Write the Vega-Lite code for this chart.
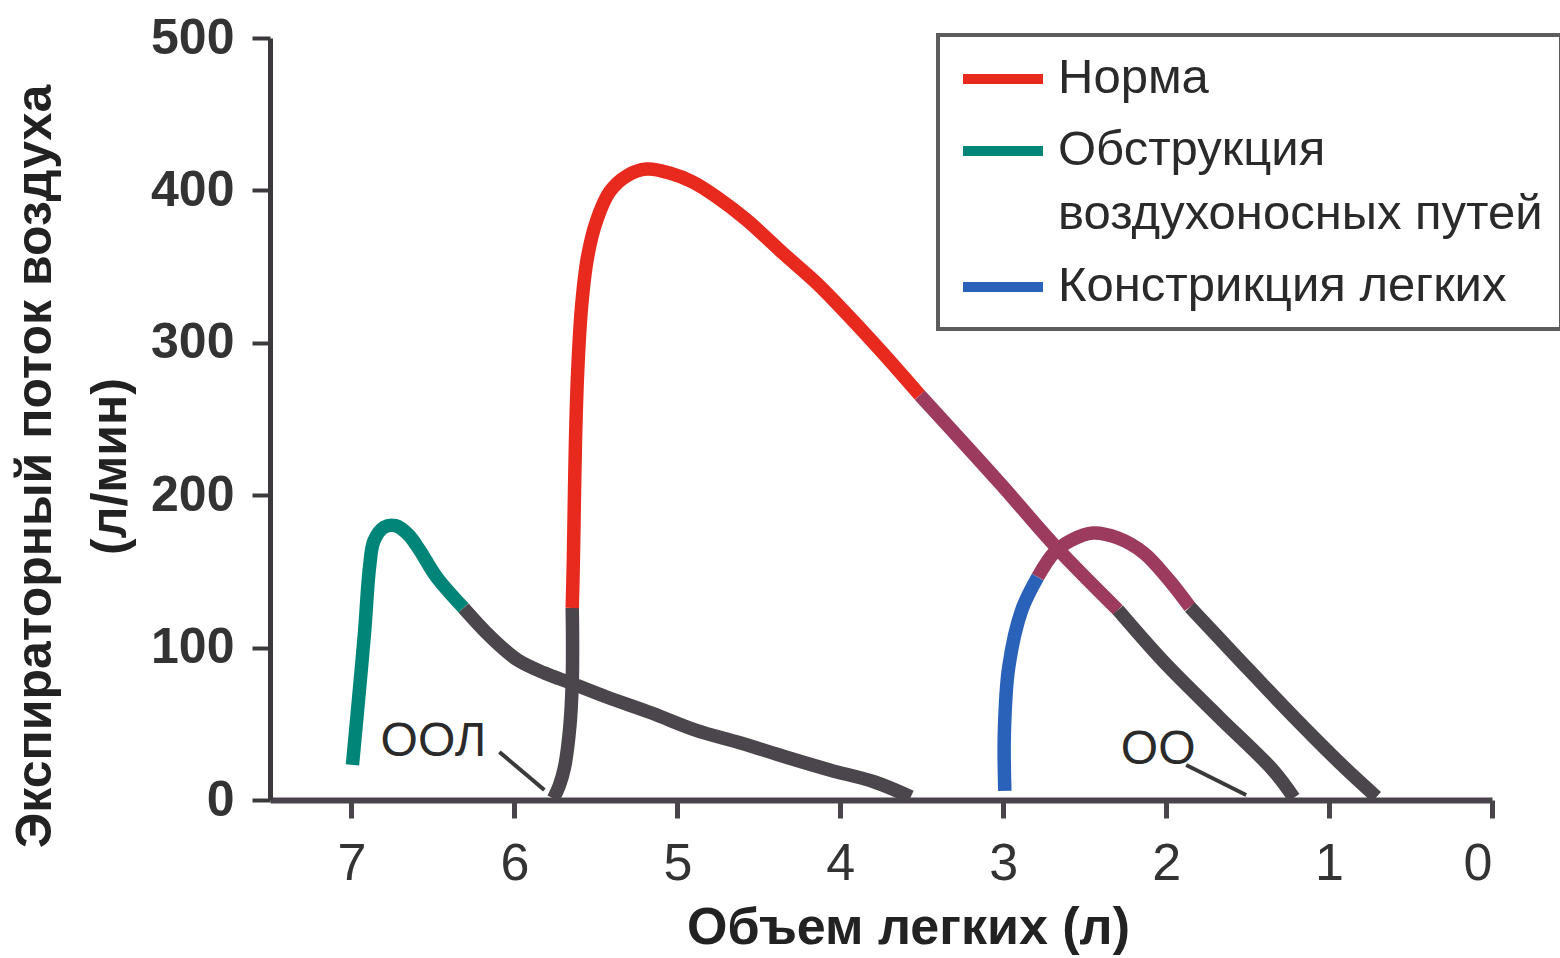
{
  "$schema": "https://vega.github.io/schema/vega-lite/v6.json",
  "width": 1222,
  "height": 762,
  "autosize": {"type": "none"},
  "padding": {"left": 270, "top": 38, "right": 68, "bottom": 158},
  "background": "white",
  "config": {
    "view": {"stroke": null},
    "font": "Liberation Sans, Arial, sans-serif"
  },
  "datasets": {
    "curves": [
      {"seg": "o1", "segment": "Обструкция воздухоносных путей", "i": 1, "volume": 6.994, "flow": 23},
      {"seg": "o1", "segment": "Обструкция воздухоносных путей", "i": 2, "volume": 6.957, "flow": 65.6},
      {"seg": "o1", "segment": "Обструкция воздухоносных путей", "i": 3, "volume": 6.92, "flow": 109.6},
      {"seg": "o1", "segment": "Обструкция воздухоносных путей", "i": 4, "volume": 6.889, "flow": 152.9},
      {"seg": "o1", "segment": "Обструкция воздухоносных путей", "i": 5, "volume": 6.862, "flow": 170},
      {"seg": "o1", "segment": "Обструкция воздухоносных путей", "i": 6, "volume": 6.8, "flow": 179},
      {"seg": "o1", "segment": "Обструкция воздухоносных путей", "i": 7, "volume": 6.73, "flow": 180},
      {"seg": "o1", "segment": "Обструкция воздухоносных путей", "i": 8, "volume": 6.65, "flow": 174},
      {"seg": "o1", "segment": "Обструкция воздухоносных путей", "i": 9, "volume": 6.582, "flow": 164},
      {"seg": "o1", "segment": "Обструкция воздухоносных путей", "i": 10, "volume": 6.478, "flow": 146.3},
      {"seg": "o1", "segment": "Обструкция воздухоносных путей", "i": 11, "volume": 6.312, "flow": 126},
      {"seg": "o2", "segment": "Остаток", "i": 12, "volume": 6.312, "flow": 126},
      {"seg": "o2", "segment": "Остаток", "i": 13, "volume": 6.146, "flow": 107},
      {"seg": "o2", "segment": "Остаток", "i": 14, "volume": 5.981, "flow": 91.9},
      {"seg": "o2", "segment": "Остаток", "i": 15, "volume": 5.815, "flow": 83.3},
      {"seg": "o2", "segment": "Остаток", "i": 16, "volume": 5.655, "flow": 76.8},
      {"seg": "o2", "segment": "Остаток", "i": 17, "volume": 5.434, "flow": 67.6},
      {"seg": "o2", "segment": "Остаток", "i": 18, "volume": 5.158, "flow": 57.1},
      {"seg": "o2", "segment": "Остаток", "i": 19, "volume": 4.888, "flow": 45.9},
      {"seg": "o2", "segment": "Остаток", "i": 20, "volume": 4.611, "flow": 37.4},
      {"seg": "o2", "segment": "Остаток", "i": 21, "volume": 4.335, "flow": 28.2},
      {"seg": "o2", "segment": "Остаток", "i": 22, "volume": 4.065, "flow": 19.7},
      {"seg": "o2", "segment": "Остаток", "i": 23, "volume": 3.789, "flow": 11.8},
      {"seg": "o2", "segment": "Остаток", "i": 24, "volume": 3.567, "flow": 2},
      {"seg": "r1", "segment": "Констрикция легких", "i": 30, "volume": 2.99, "flow": 6},
      {"seg": "r1", "segment": "Констрикция легких", "i": 31, "volume": 2.993, "flow": 44},
      {"seg": "r1", "segment": "Констрикция легких", "i": 32, "volume": 2.966, "flow": 87.3},
      {"seg": "r1", "segment": "Констрикция легких", "i": 33, "volume": 2.886, "flow": 124.7},
      {"seg": "r1", "segment": "Констрикция легких", "i": 34, "volume": 2.788, "flow": 146.3},
      {"seg": "r2", "segment": "Перекрытие", "i": 35, "volume": 2.788, "flow": 146.3},
      {"seg": "r2", "segment": "Перекрытие", "i": 36, "volume": 2.689, "flow": 162.1},
      {"seg": "r2", "segment": "Перекрытие", "i": 37, "volume": 2.579, "flow": 170.6},
      {"seg": "r2", "segment": "Перекрытие", "i": 38, "volume": 2.45, "flow": 175.2},
      {"seg": "r2", "segment": "Перекрытие", "i": 39, "volume": 2.296, "flow": 171.9},
      {"seg": "r2", "segment": "Перекрытие", "i": 40, "volume": 2.137, "flow": 162.1},
      {"seg": "r2", "segment": "Перекрытие", "i": 41, "volume": 1.983, "flow": 144.4},
      {"seg": "r2", "segment": "Перекрытие", "i": 42, "volume": 1.854, "flow": 126.6},
      {"seg": "r3", "segment": "Остаток", "i": 43, "volume": 1.854, "flow": 126.6},
      {"seg": "r3", "segment": "Остаток", "i": 44, "volume": 1.566, "flow": 93.8},
      {"seg": "r3", "segment": "Остаток", "i": 45, "volume": 1.24, "flow": 57.1},
      {"seg": "r3", "segment": "Остаток", "i": 46, "volume": 0.909, "flow": 21.7},
      {"seg": "r3", "segment": "Остаток", "i": 47, "volume": 0.709, "flow": 2},
      {"seg": "n1", "segment": "Остаток", "i": 50, "volume": 5.76, "flow": 1},
      {"seg": "n1", "segment": "Остаток", "i": 51, "volume": 5.723, "flow": 9.8},
      {"seg": "n1", "segment": "Остаток", "i": 52, "volume": 5.692, "flow": 21.7},
      {"seg": "n1", "segment": "Остаток", "i": 53, "volume": 5.66, "flow": 47.9},
      {"seg": "n1", "segment": "Остаток", "i": 54, "volume": 5.645, "flow": 77.4},
      {"seg": "n1", "segment": "Остаток", "i": 55, "volume": 5.643, "flow": 105},
      {"seg": "n1", "segment": "Остаток", "i": 56, "volume": 5.645, "flow": 126},
      {"seg": "n2", "segment": "Норма", "i": 57, "volume": 5.645, "flow": 126},
      {"seg": "n2", "segment": "Норма", "i": 58, "volume": 5.638, "flow": 157.5},
      {"seg": "n2", "segment": "Норма", "i": 59, "volume": 5.632, "flow": 196.9},
      {"seg": "n2", "segment": "Норма", "i": 60, "volume": 5.625, "flow": 236.2},
      {"seg": "n2", "segment": "Норма", "i": 61, "volume": 5.612, "flow": 280.2},
      {"seg": "n2", "segment": "Норма", "i": 62, "volume": 5.588, "flow": 323.5},
      {"seg": "n2", "segment": "Норма", "i": 63, "volume": 5.551, "flow": 356.3},
      {"seg": "n2", "segment": "Норма", "i": 64, "volume": 5.496, "flow": 380},
      {"seg": "n2", "segment": "Норма", "i": 65, "volume": 5.416, "flow": 399},
      {"seg": "n2", "segment": "Норма", "i": 66, "volume": 5.311, "flow": 409.5},
      {"seg": "n2", "segment": "Норма", "i": 67, "volume": 5.188, "flow": 414},
      {"seg": "n2", "segment": "Норма", "i": 68, "volume": 5.047, "flow": 411.4},
      {"seg": "n2", "segment": "Норма", "i": 69, "volume": 4.906, "flow": 405.5},
      {"seg": "n2", "segment": "Норма", "i": 70, "volume": 4.759, "flow": 395.7},
      {"seg": "n2", "segment": "Норма", "i": 71, "volume": 4.574, "flow": 380.6},
      {"seg": "n2", "segment": "Норма", "i": 72, "volume": 4.353, "flow": 358.9},
      {"seg": "n2", "segment": "Норма", "i": 73, "volume": 4.145, "flow": 339.2},
      {"seg": "n2", "segment": "Норма", "i": 74, "volume": 3.942, "flow": 316.9},
      {"seg": "n2", "segment": "Норма", "i": 75, "volume": 3.739, "flow": 293.3},
      {"seg": "n2", "segment": "Норма", "i": 76, "volume": 3.512, "flow": 265.7},
      {"seg": "n3", "segment": "Перекрытие", "i": 77, "volume": 3.512, "flow": 265.7},
      {"seg": "n3", "segment": "Перекрытие", "i": 78, "volume": 3.021, "flow": 208},
      {"seg": "n3", "segment": "Перекрытие", "i": 79, "volume": 2.671, "flow": 165.4},
      {"seg": "n3", "segment": "Перекрытие", "i": 80, "volume": 2.296, "flow": 124.7},
      {"seg": "n4", "segment": "Остаток", "i": 81, "volume": 2.296, "flow": 124.7},
      {"seg": "n4", "segment": "Остаток", "i": 82, "volume": 2.008, "flow": 89.9},
      {"seg": "n4", "segment": "Остаток", "i": 83, "volume": 1.676, "flow": 54.5},
      {"seg": "n4", "segment": "Остаток", "i": 84, "volume": 1.345, "flow": 19.7},
      {"seg": "n4", "segment": "Остаток", "i": 85, "volume": 1.216, "flow": 1.5}
    ],
    "labels": [
      {"text": "ООЛ", "volume": 6.497, "flow": 38},
      {"text": "ОО", "volume": 2.049, "flow": 33}
    ],
    "leaders": [
      {"volume": 6.092, "flow": 31.5, "volume2": 5.816, "flow2": 6.6},
      {"volume": 1.877, "flow": 23, "volume2": 1.509, "flow2": 3.3}
    ]
  },
  "layer": [
    {
      "data": {"name": "curves"},
      "mark": {"type": "line", "strokeWidth": 13.5, "strokeCap": "butt", "strokeJoin": "round", "interpolate": "catmull-rom"},
      "encoding": {
        "x": {
          "field": "volume", "type": "quantitative",
          "scale": {"domain": [7.5, 0], "nice": false, "zero": false},
          "axis": {
            "values": [0, 1, 2, 3, 4, 5, 6, 7],
            "format": "d",
            "grid": false,
            "domainColor": "#48444a", "domainWidth": 6,
            "tickColor": "#48444a", "tickWidth": 5, "tickSize": 18,
            "labelFontSize": 52, "labelColor": "#333333", "labelPadding": 20,
            "title": "Объем легких (л)",
            "titleFontSize": 52, "titleFontWeight": "bold", "titleColor": "#222222",
            "titleX": 638, "titleY": 127, "titleBaseline": "middle"
          }
        },
        "y": {
          "field": "flow", "type": "quantitative",
          "scale": {"domain": [0, 500], "nice": false},
          "axis": {
            "values": [0, 100, 200, 300, 400, 500],
            "grid": false,
            "domainColor": "#3c393c", "domainWidth": 5,
            "tickColor": "#3c393c", "tickWidth": 4, "tickSize": 18,
            "labelFontSize": 50, "labelFontWeight": "bold", "labelColor": "#333333", "labelPadding": 18,
            "title": ["Экспираторный поток воздуха", "(л/мин)"],
            "titleFontSize": 50, "titleFontWeight": "bold", "titleColor": "#222222",
            "titleLineHeight": 75,
            "titleAngle": -90, "titleAlign": "center", "titleBaseline": "top",
            "titleX": -260, "titleY": 428
          }
        },
        "color": {
          "field": "segment", "type": "nominal",
          "scale": {
            "domain": ["Норма", "Обструкция воздухоносных путей", "Констрикция легких", "Перекрытие", "Остаток"],
            "range": ["#e8291e", "#008578", "#2a62b9", "#9c3b5e", "#4b464c"]
          },
          "legend": {
            "values": ["Норма", "Обструкция воздухоносных путей", "Констрикция легких"],
            "title": null,
            "orient": "none", "legendX": 668, "legendY": -3,
            "direction": "vertical",
            "symbolType": "stroke", "symbolSize": 6400, "symbolStrokeWidth": 10, "symbolOffset": 2,
            "labelFontSize": 49, "labelColor": "#2a2a2a", "labelOffset": 10, "labelLimit": 800,
            "labelBaseline": "line-top",
            "labelExpr": "datum.label == 'Обструкция воздухоносных путей' ? ['Обструкция', 'воздухоносных путей'] : datum.label",
            "rowPadding": 22,
            "padding": 18,
            "fillColor": "white", "strokeColor": "#5c5c5c",
            "encode": {
              "legend": {"update": {"strokeWidth": {"value": 4}}},
              "symbols": {"update": {"y": {"value": 26}}},
              "labels": {"update": {"y": {"value": 26}, "lineHeight": {"value": 64}, "dy": {"value": -32}}}
            }
          }
        },
        "detail": {"field": "seg"},
        "order": {"field": "i", "type": "quantitative"}
      }
    },
    {
      "data": {"name": "leaders"},
      "mark": {"type": "rule", "strokeWidth": 4, "color": "#3a3a3a"},
      "encoding": {
        "x": {"field": "volume", "type": "quantitative"},
        "y": {"field": "flow", "type": "quantitative"},
        "x2": {"field": "volume2"},
        "y2": {"field": "flow2"}
      }
    },
    {
      "data": {"name": "labels"},
      "mark": {"type": "text", "fontSize": 48, "color": "#2a2a2a", "align": "center", "baseline": "middle"},
      "encoding": {
        "x": {"field": "volume", "type": "quantitative"},
        "y": {"field": "flow", "type": "quantitative"},
        "text": {"field": "text"}
      }
    }
  ]
}
